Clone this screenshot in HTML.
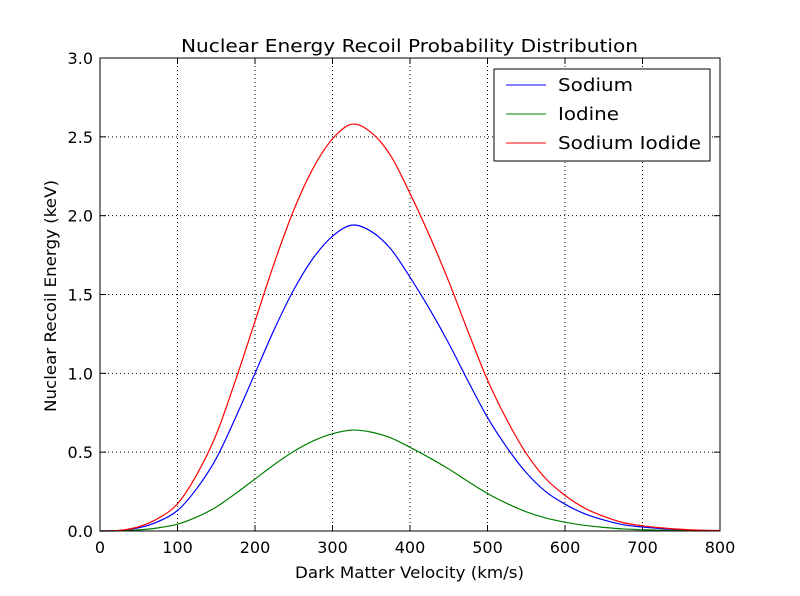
<!DOCTYPE html>
<html><head><meta charset="utf-8"><style>
body{margin:0;background:#fff;}
svg text{font-family:"DejaVu Sans","Liberation Sans",sans-serif;}
</style></head><body>
<svg id="chart" width="800" height="591" viewBox="0 0 800 591" xmlns="http://www.w3.org/2000/svg">
<rect x="0" y="0" width="800" height="591" fill="#fff"/>
<g id="grid"></g><g id="ticks"></g><g id="lines"></g>
<rect x="100" y="58" width="620" height="473" fill="none" stroke="#000" stroke-width="1"/>
<text x="181" y="52" font-size="18" textLength="457" lengthAdjust="spacingAndGlyphs">Nuclear Energy Recoil Probability Distribution</text>
<text x="295" y="578" font-size="16" textLength="229" lengthAdjust="spacingAndGlyphs">Dark Matter Velocity (km/s)</text>
<text x="0" y="0" font-size="16" textLength="232" lengthAdjust="spacingAndGlyphs" transform="translate(56 412) rotate(-90)">Nuclear Recoil Energy (keV)</text>
<g>
<rect x="494" y="69" width="216" height="92" fill="#fff" stroke="#000"/>
<line x1="506" y1="85" x2="546" y2="85" stroke="#0000ff"/><text x="558" y="91" font-size="18" textLength="75" lengthAdjust="spacingAndGlyphs">Sodium</text>
<line x1="506" y1="114" x2="546" y2="114" stroke="#008000"/><text x="558" y="120" font-size="18" textLength="61" lengthAdjust="spacingAndGlyphs">Iodine</text>
<line x1="506" y1="143" x2="546" y2="143" stroke="#ff0000"/><text x="558" y="149" font-size="18" textLength="143" lengthAdjust="spacingAndGlyphs">Sodium Iodide</text>
</g>
</svg>
<script>
const velocities=[0,25,50,75,100,125,150,175,200,225,250,275,300,325,350,375,400,425,450,475,500,525,550,575,600,625,650,675,700,725,750,775,800];
const sodium=[0,0.003,0.02,0.06,0.13,0.27,0.46,0.72,1.0,1.28,1.53,1.73,1.87,1.94,1.90,1.79,1.61,1.41,1.19,0.95,0.72,0.53,0.37,0.25,0.17,0.11,0.07,0.04,0.025,0.015,0.008,0.004,0.002];
const iodine=[0,0.001,0.007,0.02,0.043,0.089,0.152,0.238,0.33,0.422,0.505,0.571,0.617,0.64,0.627,0.591,0.531,0.465,0.393,0.314,0.238,0.175,0.122,0.083,0.056,0.036,0.023,0.013,0.008,0.005,0.003,0.001,0.001];
const sodiumIodide=[0,0.004,0.027,0.08,0.173,0.359,0.612,0.958,1.33,1.702,2.035,2.301,2.487,2.58,2.527,2.381,2.141,1.875,1.583,1.264,0.958,0.705,0.492,0.333,0.226,0.146,0.093,0.053,0.033,0.02,0.011,0.005,0.003];
const xTicks=[0,100,200,300,400,500,600,700,800];
const yTicks=[0,0.5,1.0,1.5,2.0,2.5,3.0];
const yTickLabels=["0.0","0.5","1.0","1.5","2.0","2.5","3.0"];
const NS="http://www.w3.org/2000/svg";
const xs=v=>100+v/800*620, ys=v=>531-v/3*473;
function mk(t,a,p){const e=document.createElementNS(NS,t);for(const k in a)e.setAttribute(k,a[k]);p.appendChild(e);return e;}
const grid=document.getElementById('grid'),ticks=document.getElementById('ticks'),lines=document.getElementById('lines');
xTicks.forEach(v=>{const x=xs(v);
 if(v>0&&v<800){const g=mk('line',{x1:x,y1:58,x2:x,y2:531,stroke:'#000','stroke-dasharray':'1,3'},grid);
 
 }
 mk('line',{x1:x,y1:531,x2:x,y2:525,stroke:'#000'},ticks);mk('line',{x1:x,y1:58,x2:x,y2:64,stroke:'#000'},ticks);
 const t=mk('text',{x:x,y:553,'text-anchor':'middle','font-size':16},ticks);t.textContent=v;
 
 });
yTicks.forEach((v,i)=>{const y=ys(v);
 if(v>0&&v<3){const g=mk('line',{x1:100,y1:y,x2:720,y2:y,stroke:'#000','stroke-dasharray':'1,3'},grid);
 
 }
 mk('line',{x1:100,y1:y,x2:106,y2:y,stroke:'#000'},ticks);mk('line',{x1:720,y1:y,x2:714,y2:y,stroke:'#000'},ticks);
 const t=mk('text',{x:93,y:y+6,'text-anchor':'end','font-size':16},ticks);t.textContent=yTickLabels[i];
 
 });
function path(vals){const p=velocities.map((v,i)=>[xs(v),ys(vals[i])]);let d='M'+p[0][0]+','+p[0][1];
 for(let i=0;i<p.length-1;i++){const p0=p[i-1]||p[i],p1=p[i],p2=p[i+1],p3=p[i+2]||p2;
 d+=' C'+(p1[0]+(p2[0]-p0[0])/6)+','+(p1[1]+(p2[1]-p0[1])/6)+' '+(p2[0]-(p3[0]-p1[0])/6)+','+(p2[1]-(p3[1]-p1[1])/6)+' '+p2[0]+','+p2[1];}
 return d;}
[[sodium,'#0000ff','sodium-line'],[iodine,'#008000','iodine-line'],[sodiumIodide,'#ff0000','sodium-iodide-line']].forEach(s=>{
 const l=mk('path',{d:path(s[0]),fill:'none',stroke:s[1],'stroke-width':1.2},lines);
 
 });
</script>
</body></html>
